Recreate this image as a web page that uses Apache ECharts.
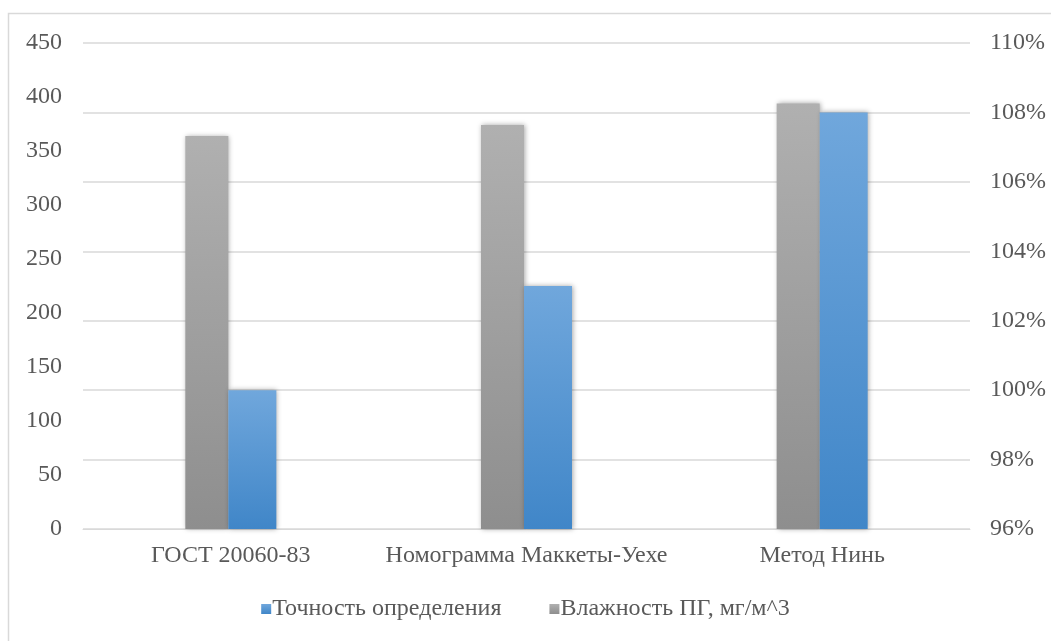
<!DOCTYPE html>
<html>
<head>
<meta charset="utf-8">
<script src="https://cdn.jsdelivr.net/npm/echarts@6/dist/echarts.min.js"></script>
<style>
  html, body { margin: 0; padding: 0; background: #ffffff; }
  #chart { width: 1051px; height: 641px; }
</style>
</head>
<body>
<div id="chart"></div>
<script>
// Methods compared
const categories = ['ГОСТ 20060-83', 'Номограмма Маккеты-Уехе', 'Метод Нинь'];
// Natural gas moisture, mg/m^3 (left axis)
const moisture = [364, 374, 394];
// Determination accuracy, % (right axis)
const accuracy = [100, 103, 108];

const moistureName = 'Влажность ПГ, мг/м^3';
const accuracyName = 'Точность определения';

const font = '"Liberation Serif", "Times New Roman", serif';
const textColor = '#595959';
const fontSize = 24;

const chart = echarts.init(document.getElementById('chart'), null, { renderer: 'canvas' });

const grayFill = new echarts.graphic.LinearGradient(0, 0, 0, 1, [
  { offset: 0, color: '#b0b0b0' },
  { offset: 1, color: '#8e8e8e' }
]);
const blueFill = new echarts.graphic.LinearGradient(0, 0, 0, 1, [
  { offset: 0, color: '#70a7dc' },
  { offset: 1, color: '#4086c8' }
]);

chart.setOption({
  animation: false,
  backgroundColor: '#ffffff',
  graphic: [{
    type: 'rect',
    silent: true,
    shape: { x: 8.5, y: 13.5, width: 1100, height: 700 },
    style: { fill: 'none', stroke: '#d9d9d9', lineWidth: 1.5 }
  }],
  grid: { left: 83, right: 81, top: 43, bottom: 112, containLabel: false },
  legend: {
    data: [accuracyName, moistureName],
    top: 592,
    left: 'center',
    itemWidth: 10,
    itemHeight: 10,
    itemGap: 48,
    icon: 'rect',
    textStyle: { fontFamily: font, fontSize: fontSize, color: textColor, padding: [0, 0, 0, -4] }
  },
  xAxis: {
    type: 'category',
    data: categories,
    axisLine: { show: true, lineStyle: { color: '#d9d9d9', width: 1 } },
    axisTick: { show: false },
    axisLabel: { interval: 0, fontFamily: font, fontSize: fontSize, color: textColor, margin: 15 }
  },
  yAxis: [{
    type: 'value',
    position: 'left',
    min: 0,
    max: 450,
    interval: 50,
    axisLine: { show: false },
    axisTick: { show: false },
    splitLine: { show: false },
    axisLabel: { fontFamily: font, fontSize: fontSize, color: textColor, margin: 21 }
  }, {
    type: 'value',
    position: 'right',
    min: 96,
    max: 110,
    interval: 2,
    axisLine: { show: false },
    axisTick: { show: false },
    splitLine: { show: true, lineStyle: { color: '#d9d9d9', width: 1.5 } },
    axisLabel: { fontFamily: font, fontSize: fontSize, color: textColor, margin: 20, formatter: '{value}%' }
  }],
  series: [{
    name: moistureName,
    type: 'bar',
    yAxisIndex: 0,
    data: moisture,
    barWidth: 43,
    barGap: '0%',
    itemStyle: {
      color: grayFill,
      shadowBlur: 5,
      shadowOffsetX: 1,
      shadowColor: 'rgba(0,0,0,0.35)'
    }
  }, {
    name: accuracyName,
    type: 'bar',
    yAxisIndex: 1,
    data: accuracy,
    barWidth: 48,
    barGap: '0%',
    itemStyle: {
      color: blueFill,
      shadowBlur: 5,
      shadowOffsetX: 1,
      shadowColor: 'rgba(0,0,0,0.35)'
    }
  }]
});
</script>
</body>
</html>
